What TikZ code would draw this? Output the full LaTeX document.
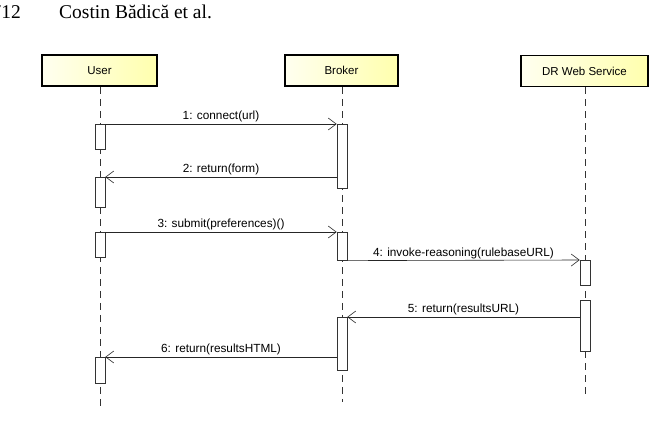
\documentclass[tikz,border=0pt]{standalone}
\usepackage{fontspec}
\setmainfont{Liberation Serif}
\setsansfont{Liberation Sans}
\usetikzlibrary{positioning,arrows.meta,calc}

\begin{document}
\begin{tikzpicture}[
  x=1pt, y=-1pt,
  actor/.style={draw, line width=1.6pt, minimum height=31pt, inner sep=0pt, font=\sffamily\fontsize{11.5}{13}\selectfont, left color=yellow!6, right color=yellow!32},
  bar/.style={draw=black!80, fill=white, minimum width=10pt, inner sep=0pt, semithick},
  lifeline/.style={draw=black!80, semithick, dash pattern=on 7pt off 5pt},
  msg/.style={-{Straight Barb[length=8pt,width=12pt]}, draw=black!85, semithick},
  lbl/.style={above, font=\sffamily\fontsize{11.8}{13}\selectfont, inner sep=1.5pt}
]
  \useasboundingbox (0,0) rectangle (652,420);

  % page header
  \node[anchor=base east, font=\fontsize{19.5}{22}\selectfont, inner sep=0pt] (page) at (21,19) {712};
  \node[anchor=base west, font=\fontsize{19.5}{22}\selectfont, inner sep=0pt] (authors) at (59,19) {Costin Bădică et al.};

  % lifeline heads
  \node[actor, minimum width=115pt] (user) at (99.5,70.5) {User};
  \node[actor, minimum width=113pt] (broker) at (341.5,70.5) {Broker};
  \node[actor, minimum width=127pt] (drws) at (584.5,71) {DR Web Service};

  \coordinate (userend) at (100,410);
  \coordinate (brokerend) at (342,402);
  \coordinate (drwsend) at (585,398);

  \draw[lifeline] (user.south -| userend) -- (userend);
  \draw[lifeline] (broker.south -| brokerend) -- (brokerend);
  \draw[lifeline] (drws.south -| drwsend) -- (drwsend);

  % activation bars
  \node[bar, anchor=north, minimum height=25pt] (u1) at (100,124) {};
  \node[bar, anchor=north, minimum height=30pt] (u2) at (100,177) {};
  \node[bar, anchor=north, minimum height=25pt] (u3) at (100,232) {};
  \node[bar, anchor=north, minimum height=26pt] (u4) at (100,357) {};

  \node[bar, anchor=north, minimum height=64pt] (b1) at (342,124) {};
  \node[bar, anchor=north, minimum height=28pt] (b2) at (342,232) {};
  \node[bar, anchor=north, minimum height=53pt] (b3) at (342,317) {};

  \node[bar, anchor=north, minimum height=25pt] (d1) at (585,260) {};
  \node[bar, anchor=north, minimum height=51pt] (d2) at (585,300) {};

  % messages
  \draw[msg] (u1.north east) -- node[lbl] {1: connect(url)} (b1.north west);
  \draw[msg] (b1.west |- u2.north) -- node[lbl] {2: return(form)} (u2.north east);
  \draw[msg] (u3.north east) -- node[lbl] {3: submit(preferences)()} (b2.north west);
  \draw[msg] (b2.south east) -- node[lbl] {4: invoke-reasoning(rulebaseURL)} (d1.north west);
  \draw[msg] (d2.west |- b3.north) -- node[lbl] {5: return(resultsURL)} (b3.north east);
  \draw[msg] (b3.west |- u4.north) -- node[lbl] {6: return(resultsHTML)} (u4.north east);
\end{tikzpicture}
\end{document}
